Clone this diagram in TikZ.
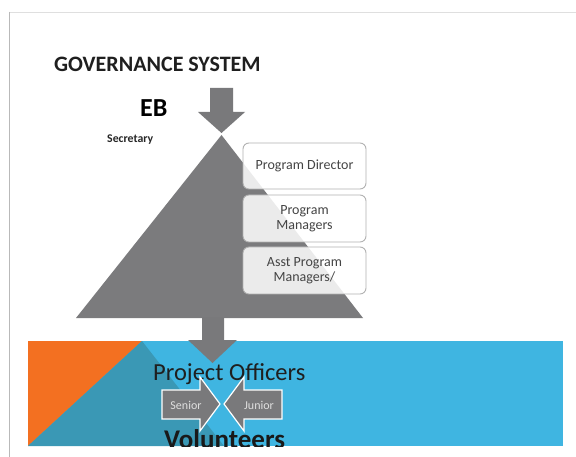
\documentclass[tikz,border=0pt]{standalone}
\usepackage{fontspec}
\setmainfont{Carlito}
\definecolor{pyr}{HTML}{7B7B7D}
\definecolor{arr}{HTML}{79797B}
\definecolor{sky}{HTML}{3FB5E1}
\definecolor{org}{HTML}{F37021}
\definecolor{teal2}{HTML}{3A98B5}
\definecolor{boxtxt}{HTML}{444444}
\tikzset{
  lvlbox/.style={draw=gray!60, line width=0.9pt, rounded corners=6pt, fill=white, fill opacity=0.85, text opacity=1},
  lvltext/.style={text=boxtxt, font=\fontsize{14}{15}\selectfont, align=center},
  blockarr/.style={fill=arr},
  sidearr/.style={fill=arr, draw=white, line width=1.2pt},
  sidetext/.style={text=gray!25, font=\fontsize{12}{13}\selectfont}
}
\begin{document}
\begin{tikzpicture}[x=1pt,y=-1pt]
\useasboundingbox (0,0) rectangle (576,457);
\fill[white] (0,0) rectangle (576,457);
% slide frame
\draw[gray!25, line width=1.5pt] (9,12.5) -- (576,12.5);
\draw[gray!55, line width=1.8pt] (9.5,12) -- (9.5,457);
% title texts
\node[anchor=base west, inner sep=0, font=\fontsize{22}{24}\selectfont\bfseries, text=black!88] (title) at (54,72) {GOVERNANCE SYSTEM};
\node[anchor=base west, inner sep=0, font=\fontsize{26}{28}\selectfont\bfseries] (eb) at (140,117) {EB};
\node[anchor=base west, inner sep=0, font=\fontsize{11.8}{12}\selectfont\bfseries, text=black!85] (sec) at (107,143) {Secretary};
% pyramid
\fill[pyr] (221.5,135) -- (363,318) -- (76,318) -- cycle;
% top arrow
\fill[blockarr] (210,88) -- (233,88) -- (233,112) -- (245,112) -- (221.5,133) -- (198,112) -- (210,112) -- cycle;
% boxes
\node[lvlbox, minimum width=123pt, minimum height=46pt] (pd) at (304.5,166) {};
\node[lvltext] at (pd) {Program Director};
\node[lvlbox, minimum width=123pt, minimum height=47pt] (pm) at (304.5,218.5) {};
\node[lvltext] at (pm) {Program\\Managers};
\node[lvlbox, minimum width=123pt, minimum height=47pt] (apm) at (304.5,270.5) {};
\node[lvltext] at (apm) {Asst Program\\Managers/};
% blue band
\fill[sky] (28,341) rectangle (563,446);
\fill[org] (28,341) -- (142,341) -- (28,446) -- cycle;
\fill[teal2] (142,341) -- (224,446) -- (28,446) -- cycle;
% bottom arrow
\fill[blockarr] (202,317) -- (224,317) -- (224,340) -- (237,340) -- (212.5,363) -- (188,340) -- (202,340) -- cycle;
\node[anchor=base west, inner sep=0, font=\fontsize{24.5}{26}\selectfont, text=black!88] (po) at (153,380) {Project Officers};
% senior / junior
\filldraw[sidearr] (162,390) -- (200,390) -- (200,377) -- (220,404) -- (200,431) -- (200,419) -- (162,419) -- cycle;
\filldraw[sidearr] (282,390) -- (244,390) -- (244,377) -- (224,404) -- (244,431) -- (244,419) -- (282,419) -- cycle;
\node[sidetext] (sen) at (186,405) {Senior};
\node[sidetext] (jun) at (259,405) {Junior};
\begin{scope}
\clip (28,341) rectangle (563,446);
\node[anchor=base west, inner sep=0, font=\fontsize{27}{29}\selectfont\bfseries, text=black!90] (vol) at (164,448) {Volunteers};
\end{scope}
\end{tikzpicture}
\end{document}
